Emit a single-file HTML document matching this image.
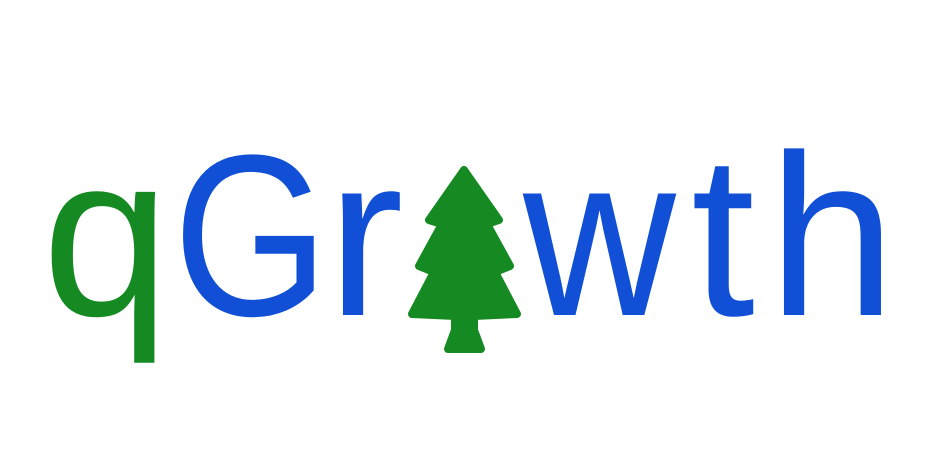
<!DOCTYPE html>
<html>
<head>
<meta charset="utf-8">
<style>
html,body{margin:0;padding:0;background:#fff;width:934px;height:473px;overflow:hidden;}
svg{display:block;}
text{font-family:"Liberation Sans",Arial,sans-serif;font-size:230px;}
</style>
</head>
<body>
<svg width="934" height="473" viewBox="0 0 934 473">
  <text x="42" y="315" fill="#168a22">q</text>
  <g transform="translate(173,0) scale(0.87,1)">
    <text x="0" y="315" fill="#1150d6">G</text>
  </g>
  <text x="327" y="315" fill="#1150d6">r</text>
  <g fill="#168a22" stroke="#168a22" stroke-width="8" stroke-linejoin="round">
    <polygon points="464,170 499,220 487,224 510,266 495,272 517,314 474,316 474,330 481,349 448,349 455,330 455,316 412,314 434,272 419,266 442,224 429,220"/>
  </g>
  <g transform="translate(523,0) scale(0.92,1)">
    <text x="0" y="315" fill="#1150d6">w</text>
  </g>
  <text x="691" y="315" fill="#1150d6">t</text>
  <text x="768" y="315" fill="#1150d6">h</text>
</svg>
</body>
</html>
